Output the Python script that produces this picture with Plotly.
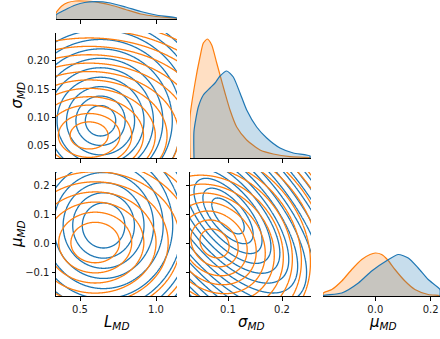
import numpy as np
import plotly.graph_objects as go

BLUE = "#1f77b4"
ORANGE = "#ff7f0e"
BLUE_FILL = "rgba(31,119,180,0.25)"
ORANGE_FILL = "rgba(255,127,14,0.25)"

# ---------------- diagonal marginals (relative density) -------------
L_blue_x = [0.342, 0.40, 0.47, 0.53, 0.60, 0.70, 0.80, 0.90, 1.00, 1.138]
L_blue_d = [4, 9, 14, 16.5, 17.3, 16, 12, 7.5, 4, 1]
L_orange_x = [0.342, 0.38, 0.42, 0.47, 0.53, 0.60, 0.70, 0.80, 0.90, 1.00, 1.138]
L_orange_d = [6, 13, 16.5, 18, 18, 17.2, 14, 9.5, 5, 2.5, 0.5]

S_orange_x = [0.0296, 0.0389, 0.0481, 0.0543, 0.0617, 0.0698, 0.0791, 0.0852, 0.0944,
              0.1037, 0.1161, 0.1346, 0.1593, 0.1839, 0.2148, 0.2519]
S_orange_d = [41, 75, 101, 115, 119, 113, 95, 83, 65, 48, 31, 18, 8, 4, 1.3, 0.3]
S_blue_x = [0.037, 0.045, 0.0543, 0.0667, 0.0759, 0.0852, 0.0976, 0.1098, 0.1222,
            0.1346, 0.1531, 0.1717, 0.1963, 0.2209, 0.2519]
S_blue_d = [27, 51, 63, 70, 75, 82, 87, 81, 65, 48, 31, 20, 10, 5, 2]

M_orange_x = [-0.1877, -0.157, -0.121, -0.085, -0.049, -0.019, 0.0, 0.023, 0.045,
              0.071, 0.107, 0.143, 0.191, 0.2335]
M_orange_d = [3, 6.5, 15, 26.5, 36.5, 41.5, 43, 41.5, 36, 26.5, 15, 6.5, 1.5, 0.3]
M_blue_x = [-0.1877, -0.121, -0.061, -0.013, 0.045, 0.083, 0.119, 0.155, 0.191, 0.2335]
M_blue_d = [0.5, 3, 13, 25, 36, 41.5, 38, 28, 16.5, 6.5]

# ---------------- 2D contour summaries --------------------------------------------------
# (centre x, centre y, inner-ring half width x, inner-ring half height y, correlation, ring step)
LS_blue = (0.635, 0.094, 0.100, 0.027, 0.0, 0.62)
LS_orange = (0.56, 0.068, 0.125, 0.024, 0.0, 0.62)
LM_blue = (0.655, 0.062, 0.140, 0.078, 0.0, 0.45)
LM_orange = (0.60, 0.003, 0.160, 0.070, 0.0, 0.50)
SM_blue = (0.100, 0.095, 0.030, 0.062, -0.65, 0.55)
SM_orange = (0.075, 0.000, 0.027, 0.050, -0.2, 0.62)

# axis ranges / ticks
L_range = [0.342, 1.138]
S_range = [0.0296, 0.2537]
M_range_x = [-0.1888, 0.2336]
S_range_y = [0.028, 0.2496]
M_range_y = [-0.182, 0.247]
L_ticks = [0.5, 1.0]
L_ticktext = ["0.5", "1.0"]
S_xticks = [0.1, 0.2]
S_xticktext = ["0.1", "0.2"]
S_yticks = [0.05, 0.10, 0.15, 0.20]
S_yticktext = ["0.05", "0.10", "0.15", "0.20"]
M_yticks = [-0.1, 0.0, 0.1, 0.2]
M_yticktext = ["\u22120.1", "0.0", "0.1", "0.2"]
M_xticks = [0.0, 0.2]
M_xticktext = ["0.0", "0.2"]

W, H = 440, 339
FONT = "DejaVu Sans"

fig = go.Figure()


def diag(xs, ds, line, fill, xa, ya):
    px = [xs[0]] + list(xs) + [xs[-1]]
    py = [0] + list(ds) + [0]
    fig.add_trace(go.Scatter(x=px, y=py, mode="lines", fill="toself", fillcolor=fill,
                             line=dict(color=line, width=1.2, shape="spline", smoothing=0.6),
                             xaxis=xa, yaxis=ya, hoverinfo="skip", showlegend=False))


def cont(params, xr, yr, color, xa, ya):
    cx, cy, sx, sy, rho, step = params
    dx = xr[1] - xr[0]
    dy = yr[1] - yr[0]
    gx = np.linspace(xr[0] - 0.1 * dx, xr[1] + 0.1 * dx, 300)
    gy = np.linspace(yr[0] - 0.1 * dy, yr[1] + 0.1 * dy, 300)
    X, Y = np.meshgrid(gx, gy)
    u = (X - cx) / sx
    v = (Y - cy) / sy
    z = np.sqrt((u * u - 2 * rho * u * v + v * v) / (1 - rho * rho))
    fig.add_trace(go.Contour(x=gx, y=gy, z=z,
                             contours=dict(coloring="lines", start=1.0, end=40.0, size=step),
                             colorscale=[[0, color], [1, color]], showscale=False,
                             line=dict(width=1.3), xaxis=xa, yaxis=ya, hoverinfo="skip"))


# diagonal panels
diag(L_orange_x, L_orange_d, ORANGE, ORANGE_FILL, "x", "y")
diag(L_blue_x, L_blue_d, BLUE, BLUE_FILL, "x", "y")
diag(S_orange_x, S_orange_d, ORANGE, ORANGE_FILL, "x3", "y3")
diag(S_blue_x, S_blue_d, BLUE, BLUE_FILL, "x3", "y3")
diag(M_orange_x, M_orange_d, ORANGE, ORANGE_FILL, "x6", "y6")
diag(M_blue_x, M_blue_d, BLUE, BLUE_FILL, "x6", "y6")

# off-diagonal panels
cont(LS_blue, L_range, S_range_y, BLUE, "x2", "y2")
cont(LS_orange, L_range, S_range_y, ORANGE, "x2", "y2")
cont(LM_blue, L_range, M_range_y, BLUE, "x4", "y4")
cont(LM_orange, L_range, M_range_y, ORANGE, "x4", "y4")
cont(SM_blue, S_range, M_range_y, BLUE, "x5", "y5")
cont(SM_orange, S_range, M_range_y, ORANGE, "x5", "y5")

col1 = [56 / W, 177 / W]
col2 = [190 / W, 311 / W]
col3 = [323 / W, 1.0]
row1 = [320 / H, 1.0]
row2 = [181 / H, 306 / H]
row3 = [43 / H, 167 / H]

tickfont = dict(family=FONT, size=10, color="#1a1a1a")


def ax(domain, rng, anchor, tickvals=None, ticktext=None, show_labels=True, showline=True,
       layer="above traces"):
    d = dict(domain=domain, range=rng, anchor=anchor, showgrid=False, zeroline=False,
             showline=showline, linecolor="black", linewidth=1, mirror=False,
             ticks="outside" if tickvals else "", ticklen=3.5, tickwidth=1, tickcolor="black",
             tickfont=tickfont, fixedrange=True, layer=layer)
    if tickvals:
        d["tickvals"] = tickvals
        d["ticktext"] = ticktext
        d["showticklabels"] = show_labels
    else:
        d["showticklabels"] = False
    return d


fig.update_layout(
    width=W, height=H, margin=dict(l=0, r=0, t=0, b=0),
    paper_bgcolor="white", plot_bgcolor="white", showlegend=False,
    xaxis=ax(col1, L_range, "y", L_ticks, L_ticktext, False, layer="below traces"),
    yaxis=ax(row1, [0, 19], "x", None, showline=False),
    xaxis2=ax(col1, L_range, "y2", L_ticks, L_ticktext, False),
    yaxis2=ax(row2, S_range_y, "x2", S_yticks, S_yticktext, True),
    xaxis3=ax(col2, S_range, "y3", S_xticks, S_xticktext, False, layer="below traces"),
    yaxis3=ax(row2, [0, 125], "x3", None, showline=False),
    xaxis4=ax(col1, L_range, "y4", L_ticks, L_ticktext, True),
    yaxis4=ax(row3, M_range_y, "x4", M_yticks, M_yticktext, True),
    xaxis5=ax(col2, S_range, "y5", S_xticks, S_xticktext, True),
    yaxis5=ax(row3, M_range_y, "x5", M_yticks, M_yticktext, False),
    xaxis6=ax(col3, M_range_x, "y6", M_xticks, M_xticktext, True, layer="below traces"),
    yaxis6=ax(row3, [0, 124], "x6", None, showline=False),
)

labfont = dict(family=FONT, size=15, color="black")
annots = [
    dict(text="<i>L</i><sub><i>MD</i></sub>", x=116.5 / W, y=1 - 322 / H),
    dict(text="<i>σ</i><sub><i>MD</i></sub>", x=251 / W, y=1 - 322 / H),
    dict(text="<i>μ</i><sub><i>MD</i></sub>", x=383 / W, y=1 - 322 / H),
    dict(text="<i>σ</i><sub><i>MD</i></sub>", x=17 / W, y=1 - 95.5 / H, textangle=-90),
    dict(text="<i>μ</i><sub><i>MD</i></sub>", x=17 / W, y=1 - 234 / H, textangle=-90),
]
for a in annots:
    fig.add_annotation(xref="paper", yref="paper", showarrow=False, font=labfont,
                       xanchor="center", yanchor="middle", **a)

fig.write_html("out.html")
